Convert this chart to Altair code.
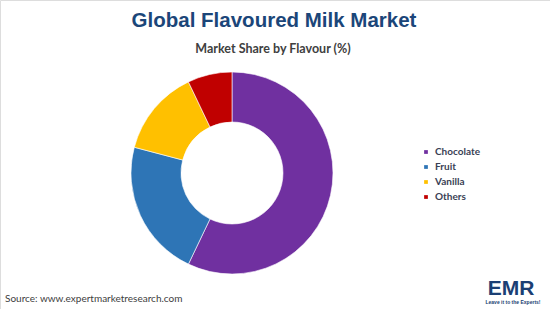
import altair as alt
import pandas as pd

flavours = ["Chocolate", "Fruit", "Vanilla", "Others"]
shares = [57.1, 22.0, 13.8, 7.1]
colors = ["#7030A0", "#2E75B6", "#FFC000", "#C00000"]
order = [1, 2, 3, 4]

title_text = "Global Flavoured Milk Market"
subtitle_text = "Market Share by Flavour (%)"
source_text = "Source: www.expertmarketresearch.com"

df = pd.DataFrame({"Flavour": flavours, "Share": shares, "Order": order})

W, H = 550, 309
CX, CY = 232, 173

donut = alt.Chart(df).mark_arc(
    innerRadius=51, outerRadius=101, stroke="white", strokeWidth=0.6
).encode(
    theta=alt.Theta("Share:Q", stack=True),
    order=alt.Order("Order:Q", sort="ascending"),
    color=alt.Color(
        "Flavour:N",
        scale=alt.Scale(domain=flavours, range=colors),
        sort=flavours,
        legend=alt.Legend(
            title=None,
            orient="none",
            legendX=421,
            legendY=147,
            symbolType="square",
            symbolSize=14,
            symbolStrokeWidth=0,
            labelFont="Lato",
            labelFontWeight="bold",
            labelFontSize=10,
            labelColor="#3A3F55",
            labelOffset=4,
            rowPadding=5,
        ),
    ),
    x=alt.value(CX),
    y=alt.value(CY),
)

def txt(text, x, y, size, color, weight="normal", font="Liberation Sans", align="center"):
    return alt.Chart(pd.DataFrame({"t": [text]})).mark_text(
        fontSize=size, color=color, fontWeight=weight, font=font, align=align, baseline="alphabetic"
    ).encode(text="t:N", x=alt.value(x), y=alt.value(y))

title = txt(title_text, 274, 27, 20.5, "#1B4679", "bold")
subtitle = txt(subtitle_text, 273, 53, 12.5, "#404040", "bold", "Lato")
source = txt(source_text, 5, 302, 10, "#404040", "normal", "Lato", "left")
logo = txt("EMR", 511, 295, 21, "#1B3F74", "bold")
logo2 = txt("Leave it to the Experts!", 513, 304, 5, "#1B3F74", "bold", "Liberation Sans")

chart = alt.layer(donut, title, subtitle, source, logo, logo2).properties(
    width=W, height=H, autosize=alt.AutoSizeParams(type="none"), padding=0
).configure_view(stroke=None).configure(background="white")

chart.save("out.html", embed_options={"renderer": "svg", "actions": False})
